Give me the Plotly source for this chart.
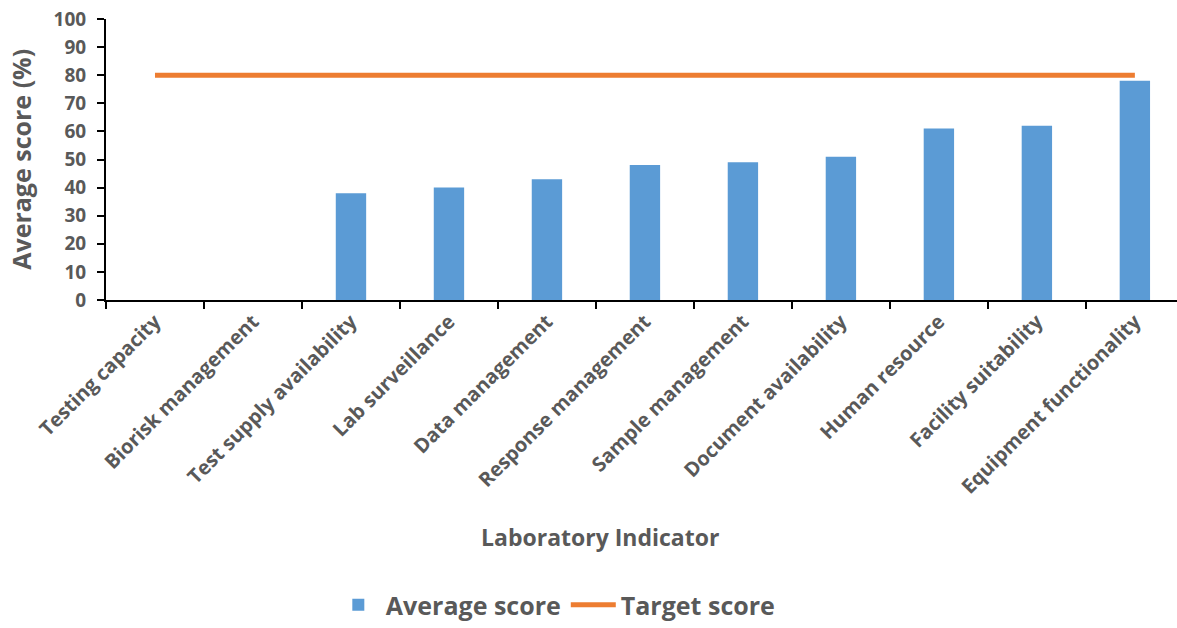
import plotly.graph_objects as go

categories = ["Testing capacity", "Biorisk management", "Test supply availability",
              "Lab surveillance", "Data management", "Response management",
              "Sample management", "Document availability", "Human resource",
              "Facility suitability", "Equipment functionality"]
average_score = [0, 0, 38, 40, 43, 48, 49, 51, 61, 62, 78]
target_score = [80] * len(categories)
y_ticks = list(range(0, 101, 10))

FONT = "Open Sans"
GREY = "#595959"

fig = go.Figure()
fig.add_trace(go.Bar(x=categories, y=average_score, name="Average score",
                     marker=dict(color="#5B9BD5", line=dict(width=0)), width=0.31))
fig.add_trace(go.Scatter(x=categories, y=target_score, name="Target score", mode="lines",
                         line=dict(color="#ED7D31", width=5)))

fig.update_layout(
    width=1177, height=628,
    margin=dict(l=106, r=0, t=19, b=328),
    plot_bgcolor="white", paper_bgcolor="white",
    font=dict(family=FONT, color=GREY),
    showlegend=True,
    legend=dict(orientation="h", x=0.42, xanchor="center",
                yref="container", y=0.0, yanchor="bottom",
                font=dict(size=25, family=FONT, color=GREY, weight="bold"),
                itemwidth=45, tracegroupgap=0),
    annotations=[
        dict(text="<b>Laboratory Indicator</b>", xref="paper", yref="paper",
             x=0.461, y=-0.843, xanchor="center", yanchor="middle",
             showarrow=False, font=dict(size=23, family=FONT, color=GREY)),
        dict(text="<b>Average score (%)</b>", xref="paper", yref="paper",
             x=-0.08, y=0.5, xanchor="center", yanchor="middle", textangle=-90,
             showarrow=False, font=dict(size=25, family=FONT, color=GREY)),
    ],
)
fig.update_xaxes(
    type="category", range=[-0.5, 10.43],
    showline=True, linecolor="black", linewidth=2,
    ticks="outside", ticklen=7, tickcolor="black", tickwidth=2,
    tickson="boundaries", tickangle=-45,
    tickfont=dict(size=20, family=FONT, color=GREY, weight="bold"),
    showgrid=False, zeroline=False,
)
fig.update_yaxes(
    range=[0, 100], tickvals=y_ticks,
    showline=True, linecolor="black", linewidth=2,
    ticks="outside", ticklen=7, tickcolor="black", tickwidth=2,
    ticklabelstandoff=7,
    tickfont=dict(size=19, family=FONT, color=GREY, weight="bold"),
    showgrid=False, zeroline=False,
)

fig.write_html("out.html")
